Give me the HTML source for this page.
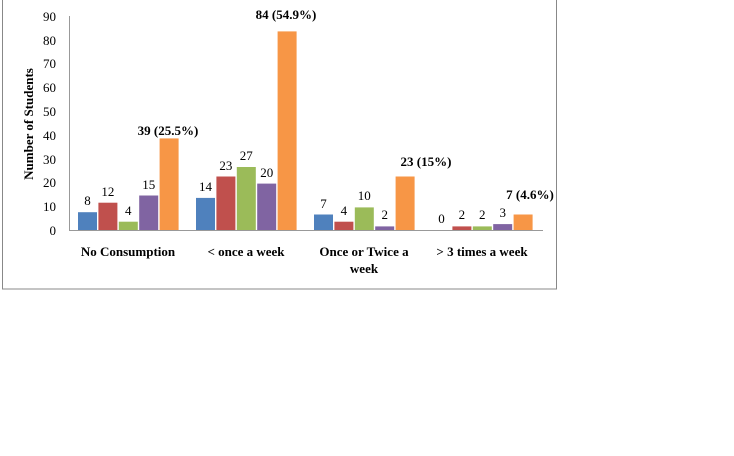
<!DOCTYPE html>
<html><head><style>body{margin:0;background:#fff}</style></head><body>
<svg width="734" height="451" xmlns="http://www.w3.org/2000/svg" font-family="Liberation Serif, serif">
<rect x="2.5" y="-1" width="554" height="290" fill="#fff" stroke="#888" stroke-width="1"/>
<line x1="69.5" y1="16" x2="69.5" y2="230" stroke="#999"/>
<line x1="69" y1="230.5" x2="543" y2="230.5" stroke="#999"/>
<g font-size="13" fill="#000" text-anchor="end">
<text x="56" y="235">0</text><text x="56" y="211">10</text><text x="56" y="187">20</text><text x="56" y="164">30</text><text x="56" y="140">40</text><text x="56" y="116">50</text><text x="56" y="92">60</text><text x="56" y="68">70</text><text x="56" y="45">80</text><text x="56" y="21">90</text>
</g>
<text transform="translate(33,124) rotate(-90)" text-anchor="middle" font-size="13" font-weight="bold">Number  of Students</text>
<g>
<rect x="78" y="212.2" width="19" height="17.8" fill="#4f81bd"/>
<rect x="98.4" y="202.7" width="19" height="27.3" fill="#c0504d"/>
<rect x="118.8" y="221.7" width="19" height="8.3" fill="#9bbb59"/>
<rect x="139.2" y="195.5" width="19" height="34.5" fill="#8064a2"/>
<rect x="159.6" y="138.4" width="19" height="91.6" fill="#f79646"/>
<rect x="196" y="197.9" width="19" height="32.1" fill="#4f81bd"/>
<rect x="216.4" y="176.5" width="19" height="53.5" fill="#c0504d"/>
<rect x="236.8" y="167" width="19" height="63" fill="#9bbb59"/>
<rect x="257.2" y="183.6" width="19" height="46.4" fill="#8064a2"/>
<rect x="277.6" y="31.4" width="19" height="198.6" fill="#f79646"/>
<rect x="314" y="214.5" width="19" height="15.5" fill="#4f81bd"/>
<rect x="334.4" y="221.7" width="19" height="8.3" fill="#c0504d"/>
<rect x="354.8" y="207.4" width="19" height="22.6" fill="#9bbb59"/>
<rect x="375.2" y="226.4" width="19" height="3.6" fill="#8064a2"/>
<rect x="395.6" y="176.5" width="19" height="53.5" fill="#f79646"/>
<rect x="452.4" y="226.4" width="19" height="3.6" fill="#c0504d"/>
<rect x="472.8" y="226.4" width="19" height="3.6" fill="#9bbb59"/>
<rect x="493.2" y="224.1" width="19" height="5.9" fill="#8064a2"/>
<rect x="513.6" y="214.5" width="19" height="15.5" fill="#f79646"/>
</g>
<g font-size="13" text-anchor="middle">
<text x="87.5" y="205">8</text><text x="107.9" y="196">12</text><text x="128.3" y="215">4</text><text x="148.7" y="189">15</text>
<text x="205.5" y="191">14</text><text x="225.9" y="170">23</text><text x="246.3" y="160">27</text><text x="266.7" y="177">20</text>
<text x="323.5" y="208">7</text><text x="343.9" y="215">4</text><text x="364.3" y="200">10</text><text x="384.7" y="219">2</text>
<text x="441.5" y="223">0</text><text x="461.9" y="219">2</text><text x="482.3" y="219">2</text><text x="502.7" y="217">3</text>
</g>
<g font-size="13" font-weight="bold" text-anchor="middle">
<text x="128" y="256">No Consumption</text>
<text x="246" y="256">&lt; once a week</text>
<text x="364" y="256">Once or Twice a</text>
<text x="364" y="273">week</text>
<text x="482" y="256">&gt; 3 times a week</text>
<text x="168" y="135">39 (25.5%)</text>
<text x="286" y="19">84 (54.9%)</text>
<text x="426" y="166">23 (15%)</text>
<text x="530" y="199">7 (4.6%)</text>
</g>
</svg>
</body></html>
